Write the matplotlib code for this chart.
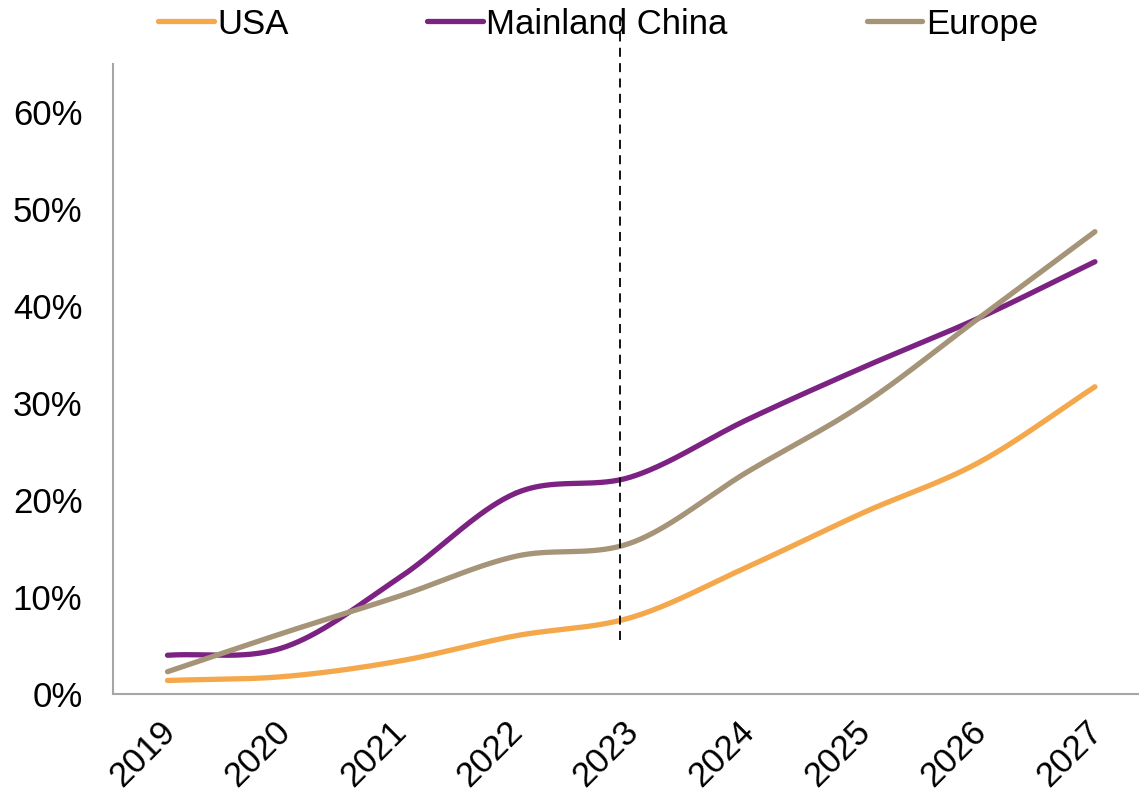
import numpy as np
import matplotlib
matplotlib.use("Agg")
import matplotlib.pyplot as plt
from matplotlib.ticker import PercentFormatter
import matplotlib.transforms as mtransforms

plt.rcParams["font.family"] = ["Liberation Sans", "DejaVu Sans"]

years = [2019, 2020, 2021, 2022, 2023, 2024, 2025, 2026, 2027]
usa = [1.4, 1.8, 3.4, 6.0, 7.9, 13.1, 18.7, 23.9, 31.7]
china = [4.0, 4.8, 12.0, 20.7, 22.4, 28.3, 33.7, 38.8, 44.6]
europe = [2.3, 6.3, 10.1, 14.2, 15.6, 22.9, 29.9, 38.8, 47.7]
divider_x = 2022.9

series = [
    ("USA", usa, "#F4A84B"),
    ("Mainland China", china, "#7B2282"),
    ("Europe", europe, "#A69478"),
]


def smooth(x, y, n=40):
    # Catmull-Rom through the points, like a spreadsheet "smoothed line"
    x = np.asarray(x, float)
    y = np.asarray(y, float)
    px = np.concatenate([[2 * x[0] - x[1]], x, [2 * x[-1] - x[-2]]])
    py = np.concatenate([[2 * y[0] - y[1]], y, [2 * y[-1] - y[-2]]])
    t = np.linspace(0, 1, n)
    xs, ys = [], []
    for i in range(1, len(px) - 2):
        for p, out in ((px, xs), (py, ys)):
            p0, p1, p2, p3 = p[i - 1], p[i], p[i + 1], p[i + 2]
            out.append(0.5 * (2 * p1 + (-p0 + p2) * t
                              + (2 * p0 - 5 * p1 + 4 * p2 - p3) * t ** 2
                              + (-p0 + 3 * p1 - 3 * p2 + p3) * t ** 3))
    return np.concatenate(xs), np.concatenate(ys)


fig = plt.figure(figsize=(11.39, 7.91), dpi=100)
ax = fig.add_axes([0.0992, 0.1226, 0.9008, 0.7965])

for name, vals, color in series:
    sx, sy = smooth(years, vals)
    ax.plot(sx, sy, color=color, lw=3.8, solid_capstyle="round", label=name)

# forecast divider, runs up into the legend strip
ax.plot([divider_x, divider_x], [5.6, 70.2], color="black", lw=1.3,
        linestyle=(0, (5, 3.5)), clip_on=False)

ax.set_xlim(2018.53, 2027.38)
ax.set_ylim(0, 65)
ax.set_yticks(range(0, 61, 10))
ax.yaxis.set_major_formatter(PercentFormatter(decimals=0))
ax.set_xticks(years)
ax.set_xticklabels([str(y) for y in years], rotation=45, ha="right", va="top")

for side in ("top", "right"):
    ax.spines[side].set_visible(False)
for side in ("left", "bottom"):
    ax.spines[side].set_color("#A6A6A6")
    ax.spines[side].set_linewidth(1.5)

ax.tick_params(axis="both", length=0, labelsize=25)
ax.tick_params(axis="x", pad=15)
ax.tick_params(axis="y", pad=22)

offset = mtransforms.ScaledTranslation(0.14, 0, fig.dpi_scale_trans)
for lab in ax.get_xticklabels():
    lab.set_transform(lab.get_transform() + offset)

fig.legend(loc="upper center", bbox_to_anchor=(0.525, 1.03), ncol=3,
           frameon=False, fontsize=25, handlelength=1.6, handletextpad=0.1,
           columnspacing=4.0)

fig.savefig("out.png", dpi=100)
